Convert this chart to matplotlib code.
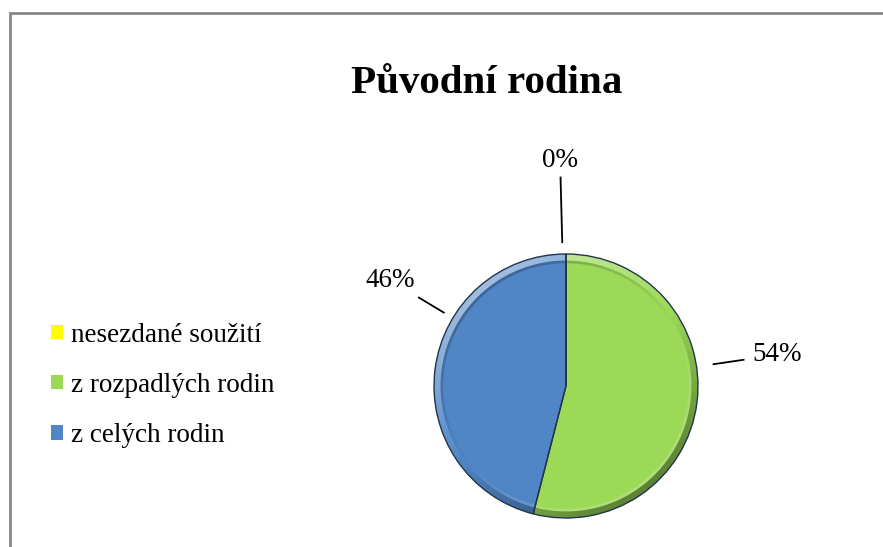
import numpy as np
import matplotlib.pyplot as plt
from matplotlib.patches import Rectangle, Wedge
from matplotlib.colors import to_rgb

# data
categories = ["nesezdané soužití", "z rozpadlých rodin", "z celých rodin"]
shares = [0, 54, 46]
pct_labels = ["0%", "54%", "46%"]
title = "Původní rodina"

colors = ["#FFFF00", "#9BD957", "#5086C6"]

plt.rcParams["font.family"] = ["Liberation Serif", "DejaVu Serif"]

W, H = 883, 547
fig = plt.figure(figsize=(W / 100, H / 100), dpi=100)

# grey frame (only left / top edges visible in the crop)
fig.patches.append(Rectangle((10 / W, -0.2), 1.2, 1.2 - 13 / H,
                             transform=fig.transFigure, fill=False,
                             edgecolor="#868686", linewidth=2, zorder=0))

fig.text(487 / W, 1 - 83 / H, title, ha="center", va="center",
         fontsize=29.5, fontweight="bold")

# pie axes: centre (566, 386) px, radius 132 px
cx, cy, r_px, half = 566, 386, 132, 260
ax = fig.add_axes([(cx - half) / W, (H - cy - half) / H, 2 * half / W, 2 * half / H])
lim = half / r_px

wedges, _ = ax.pie(shares, colors=colors, startangle=90, counterclock=False,
                   radius=1.0, wedgeprops=dict(linewidth=0))


def shade(c, ang):
    f = np.cos(np.deg2rad(ang - 125))
    c = np.array(to_rgb(c))
    if f > 0:
        return c + (1 - c) * 0.45 * f
    return c * (1 + 0.4 * f)


# bevel rim: light towards top-left, dark towards bottom-right
for w, c in zip(wedges, colors):
    if w.theta2 - w.theta1 <= 0:
        continue
    edges = np.linspace(w.theta1, w.theta2, int((w.theta2 - w.theta1) / 1.5) + 2)
    for t0, t1 in zip(edges[:-1], edges[1:]):
        mid = 0.5 * (t0 + t1)
        ax.add_patch(Wedge((0, 0), 1.0, t0, t1 + 0.3, width=0.05,
                           facecolor=shade(c, mid), linewidth=0))
        ax.add_patch(Wedge((0, 0), 0.95, t0, t1 + 0.3, width=0.02,
                           facecolor=shade(c, mid + 180) * 0.97, linewidth=0, alpha=0.5))

ax.pie(shares, colors=colors, startangle=90, counterclock=False, radius=1.0,
       wedgeprops=dict(linewidth=1.0, edgecolor="#24364D", fill=False))
ax.set_xlim(-lim, lim)
ax.set_ylim(-lim, lim)
ax.axis("off")

# label placement (angle deg, line start r, line end r, text r) chosen per slice
placement = [(91.5, 1.09, 1.58, 1.71), (8.4, 1.13, 1.36, 1.62), (149, 1.08, 1.30, 1.55)]
for lab, (ang, r0, r1, rt) in zip(pct_labels, placement):
    a = np.deg2rad(ang)
    ax.plot([r0 * np.cos(a), r1 * np.cos(a)], [r0 * np.sin(a), r1 * np.sin(a)],
            color="black", linewidth=1.3, clip_on=False)
    ax.text(rt * np.cos(a), rt * np.sin(a), lab, ha="center", va="center",
            fontsize=19.5, clip_on=False)

leg = fig.legend(wedges, categories, loc="upper left",
                 bbox_to_anchor=(37 / W, 1 - 309 / H), frameon=False,
                 fontsize=19.5, handlelength=0.45, handleheight=0.45,
                 handletextpad=0.3, labelspacing=0.93, borderpad=0)

fig.savefig("out.png", dpi=100)
